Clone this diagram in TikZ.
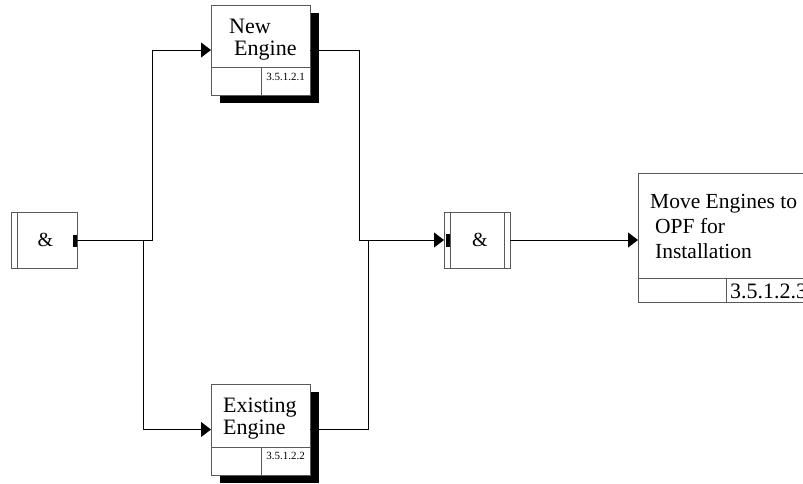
\documentclass[tikz,border=0pt]{standalone}
\usepackage{fontspec}
\setmainfont{Liberation Serif}
\usetikzlibrary{arrows.meta,shadows,calc}
\begin{document}
\begin{tikzpicture}[x=1pt,y=-1pt,
  box/.style={draw=black!65, line width=0.9pt, fill=white, inner sep=0pt, outer sep=0pt, rectangle},
  shadowbox/.style={box, minimum width=99pt, drop shadow={shadow xshift=9pt, shadow yshift=-8pt, fill=black, opacity=1}},
  junction/.style={box, minimum width=66pt, minimum height=56pt, font=\fontsize{20}{20}\selectfont},
  title/.style={font=\fontsize{22}{22}\selectfont, align=left, inner sep=0pt, anchor=west},
  bigtitle/.style={font=\fontsize{21.5}{25}\selectfont, align=left, inner sep=0pt, anchor=west},
  smallnum/.style={font=\fontsize{11}{11}\selectfont, inner sep=0pt},
  bignum/.style={font=\fontsize{22}{22}\selectfont, inner sep=0pt, anchor=west},
  divider/.style={draw=black!65, line width=0.9pt},
  conn/.style={draw=black, line width=0.9pt},
  arrowline/.style={conn, -{Triangle[length=10pt,width=15pt]}},
  bar/.style={fill=black}
]
\useasboundingbox (0,0) rectangle (803,483);

% activity boxes with shadows
\node[shadowbox, minimum height=90pt] (ne) at (260.5,50) {};
\node[title] (net) at (229,39.5) {New\\\hspace{5pt}Engine};
\draw[divider] ($(ne.south west)+(0,-28)$) -- ($(ne.south east)+(0,-28)$);
\draw[divider] ($(ne.south west)+(50,0)$) -- ++(0,-28);
\node[smallnum] (nen) at ($(ne.south east)+(-24.5,-18)$) {3.5.1.2.1};

\node[shadowbox, minimum height=91pt] (ee) at (260.5,429.5) {};
\node[title] (eet) at (223,418.5) {Existing\\Engine};
\draw[divider] ($(ee.south west)+(0,-28)$) -- ($(ee.south east)+(0,-28)$);
\draw[divider] ($(ee.south west)+(50,0)$) -- ++(0,-28);
\node[smallnum] (een) at ($(ee.south east)+(-24.5,-19)$) {3.5.1.2.2};

% junctions
\node[junction] (j1) at (44,240) {\hspace{3pt}\&};
\draw[divider] ($(j1.north west)+(6,0)$) -- ($(j1.south west)+(6,0)$);
\fill[bar] ($(j1.east)+(-4,-5)$) rectangle ($(j1.east)+(0,7)$);

\node[junction] (j2) at (477,240) {\hspace{6pt}\&};
\draw[divider] ($(j2.north west)+(6,0)$) -- ($(j2.south west)+(6,0)$);
\draw[divider] ($(j2.north east)+(-6,0)$) -- ($(j2.south east)+(-6,0)$);
\fill[bar] ($(j2.west)+(2,-6)$) rectangle ($(j2.west)+(6,7)$);

% final activity box
\node[box, minimum width=178pt, minimum height=129pt] (me) at (727,237.5) {};
\node[bigtitle] (met) at (650,226) {Move Engines to\\\hspace{5pt}OPF for\\\hspace{5pt}Installation};
\draw[divider] ($(me.south west)+(0,-24)$) -- ($(me.south east)+(0,-24)$);
\draw[divider] ($(me.south west)+(88,0)$) -- ++(0,-24);
\node[bignum] (men) at (730,291) {3.5.1.2.3};

% connectors
\draw[arrowline] (j1.east) -- ++(75,0) |- (ne.west);
\draw[arrowline] (j1.east) -- ++(66,0) |- (ee.west);
\draw[arrowline] (ne.east) -- ++(49,0) |- (j2.west);
\draw[conn, shorten >=10pt] (ee.east) -- ++(58,0) |- (j2.west);
\draw[arrowline] (j2.east) -- (j2.east -| me.west);
\end{tikzpicture}
\end{document}
